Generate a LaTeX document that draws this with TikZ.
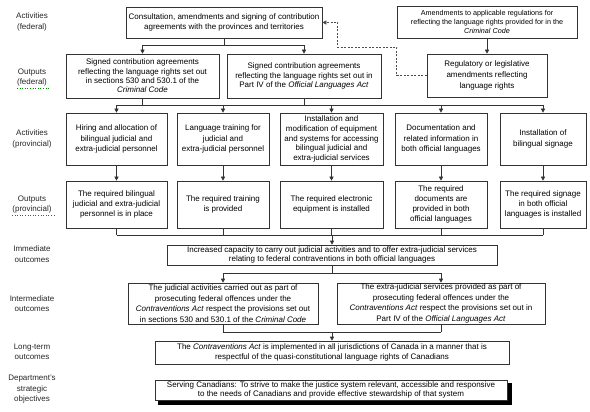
\documentclass[tikz,border=0pt]{standalone}
\usepackage{fontspec}
\setmainfont{Liberation Sans}
\usetikzlibrary{arrows.meta}
\begin{document}
\begin{tikzpicture}[x=1pt,y=-1pt,
 box/.style={draw=black!80, line width=0.6pt, fill=white, align=center, inner sep=1pt, font=\fontsize{8}{10.2}\selectfont},
 wh/.style 2 args={minimum width=#1pt, minimum height=#2pt},
 lbl/.style={align=center, font=\fontsize{8}{10.5}\selectfont, text=black!85},
 ln/.style={draw=black!80, line width=0.6pt},
 arr/.style={ln, -{Triangle[length=4pt,width=4pt]}},
 dsh/.style={draw=black!70, line width=0.6pt, dash pattern=on 2pt off 1.5pt, -{Triangle[length=4pt,width=4pt]}},
 squig/.style={draw=green!55!black, line width=0.6pt, dotted},
 shadowbox/.style={draw=black, fill=black, line width=0.6pt, inner sep=0pt},
]
\useasboundingbox (0,0) rectangle (590,412);

% left labels
\node[lbl] (lAF) at (32,22) {Activities\\(federal)};
\node[lbl] (lOF) at (32,77.5) {Outputs\\(federal)};
\node[lbl] (lAP) at (32,139) {Activities\\(provincial)};
\node[lbl] (lOP) at (32,204.5) {Outputs\\(provincial)};
\node[lbl] (lIm) at (32,254) {Immediate\\outcomes};
\node[lbl] (lIn) at (32,303.5) {Intermediate\\outcomes};
\node[lbl] (lLT) at (32,352) {Long-term\\outcomes};
\node[lbl] (lDS) at (32,389.5) {Department's\\strategic\\objectives};
\draw[squig] (17,88.5) -- (50,88.5);
\draw[squig] (12,215.5) -- (54,215.5);

% federal activities
\node[box, wh={196}{31}, font=\fontsize{8}{9.8}\selectfont] (cons) at (224,22.5) {Consultation, amendments and signing of contribution\\agreements with the provinces and territories};
\node[box, wh={180}{32}, font=\fontsize{7.2}{9}\selectfont] (amend) at (487,22) {Amendments to applicable regulations for\\reflecting the language rights provided for in the\\\textit{Criminal Code}};

% federal outputs
\node[box, wh={153}{44}, font=\fontsize{8}{9.3}\selectfont] (outA) at (142.5,76) {Signed contribution agreements\\reflecting the language rights set out\\in sections 530 and 530.1 of the\\\textit{Criminal Code}};
\node[box, wh={154}{44}, font=\fontsize{8}{9.3}\selectfont] (outB) at (304,76) {Signed contribution agreements\\reflecting the language rights set out in\\Part IV of the \textit{Official Languages Act}};
\node[box, wh={120}{43}, font=\fontsize{8}{11}\selectfont] (reg) at (487,75.5) {Regulatory or legislative\\amendments reflecting\\language rights};

% provincial activities
\node[box, wh={101}{52}] (act1) at (116.5,139) {Hiring and allocation of\\bilingual judicial and\\extra-judicial personnel};
\node[box, wh={92}{52}] (act2) at (223,139) {Language training for\\judicial and\\extra-judicial personnel};
\node[box, wh={103}{52}, font=\fontsize{8}{9.6}\selectfont] (act3) at (331.5,139) {Installation and\\modification of equipment\\and systems for accessing\\bilingual judicial and\\extra-judicial services};
\node[box, wh={92}{52}] (act4) at (441,139) {Documentation and\\related information in\\both official languages};
\node[box, wh={86}{52}] (act5) at (543,139) {Installation of\\bilingual signage};

% provincial outputs
\node[box, wh={101}{47}] (op1) at (116.5,204.5) {The required bilingual\\judicial and extra-judicial\\personnel is in place};
\node[box, wh={92}{47}] (op2) at (223,204.5) {The required training\\is provided};
\node[box, wh={103}{47}] (op3) at (331.5,204.5) {The required electronic\\equipment is installed};
\node[box, wh={92}{47}] (op4) at (441,204.5) {The required\\documents are\\provided in both\\official languages};
\node[box, wh={86}{47}] (op5) at (543,204.5) {The required signage\\in both official\\languages is installed};

% outcomes
\node[box, wh={330}{20}, font=\fontsize{8}{9.3}\selectfont] (imm) at (332,255) {Increased capacity to carry out judicial activities and to offer extra-judicial services\\relating to federal contraventions in both official languages};
\node[box, wh={190}{41}, font=\fontsize{8}{10.5}\selectfont] (int1) at (223,303.5) {The judicial activities carried out as part of\\prosecuting federal offences under the\\\textit{Contraventions Act} respect the provisions set out\\in sections 530 and 530.1 of the \textit{Criminal Code}};
\node[box, wh={208}{41}, font=\fontsize{8}{10.5}\selectfont] (int2) at (441,303.5) {The extra-judicial services provided as part of\\prosecuting federal offences under the\\\textit{Contraventions Act} respect the provisions set out in\\Part IV of the \textit{Official Languages Act}};
\node[box, wh={354}{23}, font=\fontsize{8}{10.3}\selectfont] (long) at (332,352.5) {The \textit{Contraventions Act} is implemented in all jurisdictions of Canada in a manner that is\\respectful of the quasi-constitutional language rights of Canadians};
\node[shadowbox, minimum width=352.6pt, minimum height=20.6pt] (stratsh) at (335,394) {};
\node[box, wh={352}{20}, font=\fontsize{8}{9.3}\selectfont] (strat) at (331,390) {Serving Canadians: To strive to make the justice system relevant, accessible and responsive\\to the needs of Canadians and provide effective stewardship of that system};

% bus coordinates
\coordinate (bus0) at (0,45);
\coordinate (bus1) at (0,105);
\coordinate (bus2) at (0,235);
\coordinate (bus3) at (0,273);
\coordinate (bus4) at (0,332);

% connectors
\draw[ln] (cons.south) -- (cons.south |- bus0);
\draw[ln] (outA.north |- bus0) -- (outB.north |- bus0);
\draw[arr] (outA.north |- bus0) -- (outA.north);
\draw[arr] (outB.north |- bus0) -- (outB.north);
\draw[arr] (amend.south) -- (reg.north);
\draw[dsh] (reg.west) -- ++(-30,0) -- ++(0,-28) -- ++(-59,0) |- (cons.east);

\draw[ln] (outA.south) -- (outA.south |- bus1);
\draw[ln] (outB.south) -- (outB.south |- bus1);
\draw[ln] (act1.north |- bus1) -- (act5.north |- bus1);
\foreach \i in {1,...,5}{
  \draw[arr] (act\i.north |- bus1) -- (act\i.north);
  \draw[arr] (act\i.south) -- (op\i.north);
  \draw[ln] (op\i.south) -- (op\i.south |- bus2);
}
\draw[ln] (op1.south |- bus2) -- (op5.south |- bus2);
\draw[arr] (imm.north |- bus2) -- (imm.north);

\draw[ln] (imm.south) -- (imm.south |- bus3);
\draw[ln] (int1.north |- bus3) -- (int2.north |- bus3);
\draw[arr] (int1.north |- bus3) -- (int1.north);
\draw[arr] (int2.north |- bus3) -- (int2.north);

\draw[ln] (int1.south) -- (int1.south |- bus4);
\draw[ln] (int2.south) -- (int2.south |- bus4);
\draw[ln] (int1.south |- bus4) -- (int2.south |- bus4);
\draw[arr] (long.north |- bus4) -- (long.north);
\end{tikzpicture}
\end{document}
